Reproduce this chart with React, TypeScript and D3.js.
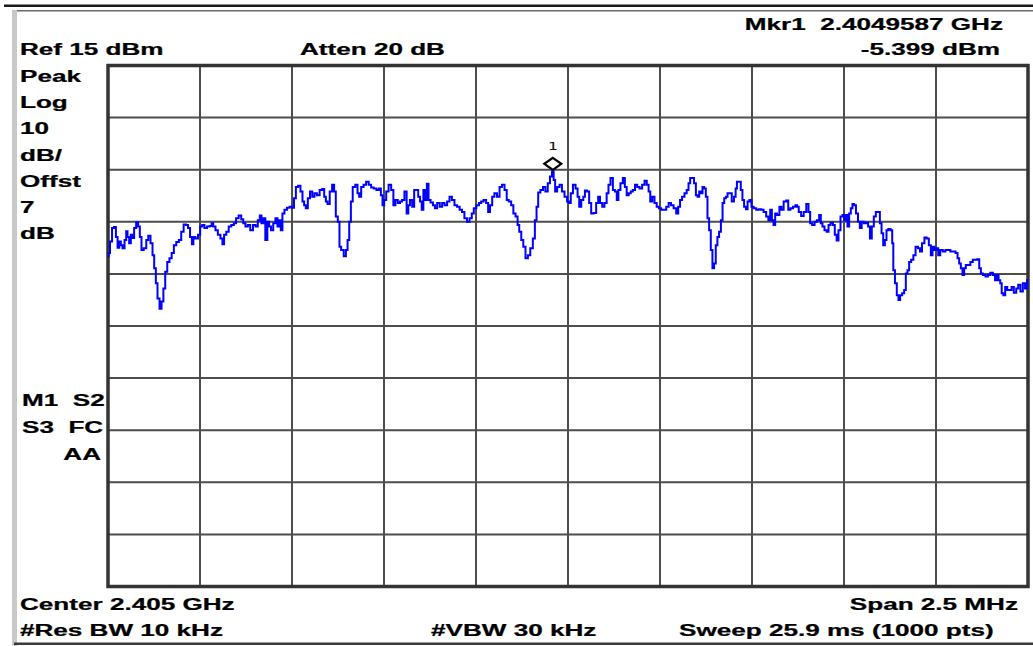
import React from "react";
import * as d3 from "d3";

// ---- instrument settings ----
const CENTER_GHZ = 2.405;
const SPAN_MHZ = 2.5;
const REF_DBM = 15;
const DB_PER_DIV = 10;
const DIVS = 10;

// ---- trace: frequency offset from center (kHz) and level (dBm) ----
const freqOffsetKHz = [
  -1250,-1247,-1242,-1236,-1231,-1226,-1222,-1217,-1213,-1208,
  -1202,-1199,-1195,-1190,-1186,-1181,-1177,-1170,-1166,-1161,
  -1157,-1149,-1143,-1138,-1131,-1127,-1122,-1118,-1113,-1107,
  -1102,-1097,-1092,-1086,-1080,-1074,-1068,-1061,-1054,-1048,
  -1041,-1035,-1030,-1024,-1020,-1016,-1009,-1002,-997,-991,
  -985,-977,-970,-967,-961,-955,-948,-941,-937,-932,
  -925,-919,-911,-905,-899,-891,-885,-880,-873,-867,
  -860,-852,-846,-840,-835,-831,-825,-820,-814,-810,
  -804,-798,-792,-787,-783,-778,-774,-767,-760,-753,
  -747,-742,-737,-730,-724,-719,-715,-710,-704,-698,
  -692,-686,-679,-671,-665,-660,-656,-651,-644,-638,-633,
  -629,-622,-620,-613,-606,-601,-597,-592,-588,
  -582,-574,-570,-565,-559,-552,-545,-538,-532,-524,
  -517,-511,-506,-502,-497,-491,-484,-477,-472,-466,
  -459,-454,-448,-441,-436,-432,-427,-420,-416,-410,
  -404,-400,-395,-391,-386,-381,-377,-370,-364,-359,
  -352,-345,-339,-332,-325,-319,-312,-305,-298,-291,
  -285,-278,-271,-264,-259,-253,-245,-239,-233,-226,
  -219,-215,-209,-203,-197,-189,-183,-176,-169,-164,
  -158,-151,-146,-139,-135,-130,-124,-119,-112,-106,
  -99,-92,-88,-83,-79,-71,-65,-58,-52,-46,
  -41,-37,-33,-26,-20,-13,-6,1,
  5,10,17,24,28,33,39,44,48,55,60,66,
  73,80,84,90,96,102,108,112,119,125,
  130,135,139,146,152,157,162,168,173,179,
  185,191,198,205,211,217,221,226,232,238,
  244,250,256,264,270,277,283,291,297,302,
  307,313,320,325,330,334,340,345,350,354,
  359,363,368,372,377,381,386,390,395,399,
  404,408,413,418,422,427,431,436,442,448,
  454,457,461,467,472,476,481,486,490,496,
  501,508,515,522,528,535,542,547,552,556,
  561,565,571,578,582,590,596,601,608,615,621,
  624,630,637,644,651,656,660,667,673,
  680,685,689,694,700,706,710,717,723,727,
  733,737,744,748,753,757,762,766,771,775,
  780,785,791,795,801,807,813,818,823,828,
  834,839,845,850,854,859,863,868,873,880,
  882,886,891,896,900,905,911,916,920,925,
  929,936,941,948,954,959,965,972,977,984,
  988,993,997,1004,1008,1015,1022,1029,1035,1043,
  1050,1056,1061,1065,1070,1074,1079,1083,1090,1097,
  1103,1109,1115,1120,1124,1131,1138,1144,1151,1158,
  1163,1168,1172,1177,1180,1186,1190,1197,1203,1208,
  1215,1221,1226,1233,1239,1245,1250,
];

const levelDbm = [
  -21.7,-21.0,-18.8,-16.2,-16.0,-17.9,-20.0,-18.8,-19.5,-20.1,
  -18.5,-16.8,-17.9,-19.1,-17.5,-18.1,-16.2,-15.1,-15.9,-17.9,
  -20.4,-20.1,-18.5,-17.7,-19.1,-21.4,-23.9,-26.8,-29.7,-31.7,
  -30.3,-27.8,-24.6,-22.7,-22.0,-21.0,-19.5,-18.9,-18.5,-16.9,
  -15.5,-15.6,-16.2,-17.9,-19.3,-17.9,-18.2,-17.5,-15.9,-15.6,
  -16.2,-15.9,-15.8,-15.3,-15.9,-16.6,-17.5,-18.2,-19.3,-17.5,
  -16.9,-15.9,-15.6,-15.3,-14.3,-13.8,-14.5,-15.3,-15.9,-15.6,
  -16.6,-15.6,-15.9,-14.7,-13.8,-15.3,-14.3,-18.5,-15.0,-15.9,
  -16.6,-15.3,-14.3,-15.9,-14.7,-16.6,-13.4,-12.7,-12.3,-12.1,
  -12.3,-10.5,-8.3,-8.1,-9.2,-11.1,-11.8,-12.4,-10.5,-9.2,
  -10.2,-9.5,-9.9,-8.9,-8.7,-10.2,-11.1,-11.6,-9.2,-7.9,-9.2,
  -14.0,-15.0,-19.8,-20.4,-21.6,-20.4,-18.5,-15.0,-11.1,
  -8.3,-7.9,-9.5,-10.2,-8.3,-7.9,-7.3,-7.9,-8.4,-8.6,
  -8.9,-8.6,-9.9,-11.8,-10.8,-9.2,-7.9,-8.9,-11.8,-10.8,
  -11.4,-11.1,-10.8,-9.2,-13.4,-11.8,-10.8,-12.1,-8.9,-8.9,
  -10.2,-11.1,-12.7,-8.9,-10.8,-7.7,-10.8,-11.3,-11.8,-12.4,
  -11.4,-12.1,-11.4,-11.8,-11.1,-10.2,-10.8,-11.8,-12.1,-12.7,
  -13.1,-14.3,-15.0,-14.3,-13.4,-12.4,-11.8,-11.4,-11.1,-10.8,
  -11.4,-13.1,-11.8,-10.2,-9.5,-10.2,-8.3,-7.9,-8.9,-10.8,
  -11.1,-11.8,-13.4,-14.0,-15.6,-16.9,-18.5,-19.8,-22.0,-21.4,
  -20.1,-18.2,-14.7,-12.1,-9.4,-8.9,-8.3,-9.2,-7.6,-6.3,
  -5.4,-7.0,-9.2,-8.3,-7.9,-9.2,-10.2,-11.1,
  -11.4,-9.5,-7.9,-8.6,-10.2,-12.1,-10.8,-10.2,-9.0,-9.2,-11.4,-13.4,
  -13.3,-11.4,-10.2,-11.4,-12.1,-11.4,-9.5,-7.9,-6.6,-8.9,
  -9.2,-10.8,-8.9,-7.6,-6.6,-8.3,-9.9,-9.5,-9.2,-8.9,
  -7.9,-8.3,-8.6,-7.9,-7.1,-7.9,-9.2,-11.1,-10.2,-11.4,
  -12.1,-12.4,-12.7,-12.7,-12.1,-11.4,-11.8,-12.4,-13.4,-12.1,
  -10.8,-10.2,-9.5,-8.9,-7.6,-6.6,-6.6,-7.6,-9.9,-10.2,
  -9.2,-9.5,-8.3,-8.6,-10.2,-14.3,-16.6,-20.4,-23.9,-23.0,
  -19.5,-17.9,-16.9,-14.7,-11.4,-10.5,-10.2,-9.5,-9.5,-11.1,
  -10.2,-8.6,-7.3,-7.3,-8.9,-10.8,-12.1,-12.6,-11.1,-10.8,
  -12.1,-12.4,-12.7,-12.6,-12.7,-13.1,-14.0,-14.7,-12.7,-14.7,
  -15.6,-13.4,-13.7,-12.1,-12.7,-11.1,-10.9,-12.7,-12.4,-12.1,-11.8,
  -12.1,-13.1,-13.9,-13.1,-11.6,-13.1,-15.3,-15.6,-15.0,
  -14.7,-13.7,-15.3,-15.9,-16.6,-16.9,-15.6,-15.2,-15.6,-17.5,
  -18.6,-16.6,-14.0,-13.7,-14.7,-13.7,-15.9,-13.4,-12.4,-11.6,
  -11.8,-13.4,-15.0,-16.2,-15.0,-15.3,-15.2,-15.9,-18.2,-15.9,
  -14.0,-13.1,-13.1,-15.3,-17.2,-19.5,-18.5,-16.6,-16.4,-16.6,
  -19.1,-24.3,-26.8,-29.1,-30.0,-29.1,-28.7,-28.1,-24.9,-24.3,
  -22.7,-22.3,-21.4,-19.8,-20.1,-20.7,-19.1,-18.0,-18.2,-19.5,
  -21.4,-19.8,-20.4,-20.1,-21.4,-20.4,-20.7,-20.4,-20.4,-20.7,
  -20.7,-21.0,-22.0,-23.0,-23.9,-25.2,-23.9,-23.3,-23.3,-22.7,
  -22.3,-22.3,-22.2,-23.9,-24.9,-25.2,-25.5,-25.2,-24.8,-25.2,
  -26.2,-25.2,-26.2,-26.8,-28.7,-29.1,-27.5,-28.1,-28.1,-27.5,
  -28.6,-27.8,-27.1,-28.4,-26.8,-27.8,-26.2,
];

// ---- marker ----
const markerId = "1";
const markerFreqGHz = 2.4049587;
const markerLevelDbm = -5.399;

// ---- annotation texts ----
const sideLabels = ["Peak", "Log", "10", "dB/", "Offst", "7", "dB"];
const statusRow1 = "M1  S2";
const statusRow2 = "S3  FC";
const statusRow3 = "AA";
const attenText = "Atten 20 dB";
const resBwText = "#Res BW 10 kHz";
const vbwText = "#VBW 30 kHz";
const sweepText = "Sweep 25.9 ms (1000 pts)";

const W = 1033;
const H = 646;
const PLOT = { left: 108, right: 1028, top: 65.5, bottom: 586.5 };

const FONT = "'Liberation Sans', Arial, Helvetica, sans-serif";

function Label({ x, y, anchor = "start", children }: any) {
  return (
    <text
      transform={`translate(${x},${y}) scale(1.5,1)`}
      textAnchor={anchor}
      fontFamily={FONT}
      fontWeight="bold"
      fontSize={17.4}
      fill="#000"
      stroke="#000"
      strokeWidth={0.25}
      style={{ whiteSpace: "pre" }}
    >
      {children}
    </text>
  );
}

export default function App() {
  const halfSpanKHz = (SPAN_MHZ * 1000) / 2;
  const x = d3.scaleLinear().domain([-halfSpanKHz, halfSpanKHz]).range([PLOT.left, PLOT.right]);
  const bottomDbm = REF_DBM - DB_PER_DIV * DIVS;
  const y = d3.scaleLinear().domain([bottomDbm, REF_DBM]).range([PLOT.bottom, PLOT.top]);

  const n = Math.min(freqOffsetKHz.length, levelDbm.length);
  const pts: [number, number][] = d3.range(n).map((i) => [freqOffsetKHz[i], levelDbm[i]]);
  const line = d3
    .line<[number, number]>()
    .x((d) => x(d[0]))
    .y((d) => y(d[1]))
    .curve(d3.curveStep);

  const xTicks = d3.range(DIVS + 1).map((i) => -halfSpanKHz + (i * 2 * halfSpanKHz) / DIVS);
  const yTicks = d3.range(DIVS + 1).map((i) => REF_DBM - i * DB_PER_DIV);

  const mx = x((markerFreqGHz - CENTER_GHZ) * 1e6);
  const my = y(markerLevelDbm);
  const dcy = my - 8;

  return (
    <svg
      width={W}
      height={H}
      viewBox={`0 0 ${W} ${H}`}
      style={{ position: "absolute", left: 0, top: 0, background: "#fff" }}
    >
      <rect x={0} y={0} width={W} height={H} fill="#fff" />
      {/* window frame */}
      <rect x={4} y={4.5} width={W - 4} height={2.5} fill="#1a1a1a" />
      <rect x={14} y={10} width={W - 14} height={1.5} fill="#6a6a6a" />
      <rect x={12} y={10} width={5} height={636} fill="#c8c8c8" />
      <rect x={14} y={642.5} width={W - 14} height={2.5} fill="#3a3a3a" />

      {/* grid */}
      <g stroke="#4d4d4d" strokeWidth={2}>
        {xTicks.slice(1, -1).map((t) => (
          <line key={"vx" + t} x1={x(t)} x2={x(t)} y1={PLOT.top} y2={PLOT.bottom} />
        ))}
        {yTicks.slice(1, -1).map((t) => (
          <line key={"hy" + t} x1={PLOT.left} x2={PLOT.right} y1={y(t)} y2={y(t)} />
        ))}
      </g>
      <rect
        x={PLOT.left}
        y={PLOT.top}
        width={PLOT.right - PLOT.left}
        height={PLOT.bottom - PLOT.top}
        fill="none"
        stroke="#333"
        strokeWidth={3.5}
      />

      {/* trace */}
      <path d={line(pts) || ""} fill="none" stroke="#0000ff" strokeWidth={2} strokeLinejoin="miter" />

      {/* marker */}
      <path
        d={`M${mx},${dcy - 6} L${mx + 8.5},${dcy} L${mx},${dcy + 6} L${mx - 8.5},${dcy} Z`}
        fill="#fff"
        stroke="#000"
        strokeWidth={2.2}
      />
      <text
        transform={`translate(${mx},${dcy - 14}) scale(1.5,1)`}
        textAnchor="middle"
        fontFamily="'DejaVu Sans Mono', monospace"
        fontSize={11}
        fill="#111"
      >
        {markerId}
      </text>

      {/* header */}
      <Label x={20} y={55}>{`Ref ${REF_DBM} dBm`}</Label>
      <Label x={300} y={55}>{attenText}</Label>
      <Label x={1003} y={30} anchor="end">{`Mkr${markerId}  ${markerFreqGHz} GHz`}</Label>
      <Label x={1000} y={55} anchor="end">{`${markerLevelDbm} dBm`}</Label>

      {/* left column */}
      {sideLabels.map((s, i) => (
        <Label key={s + i} x={20} y={82 + i * 26.2}>{s}</Label>
      ))}
      <Label x={22} y={406}>{statusRow1}</Label>
      <Label x={22} y={433}>{statusRow2}</Label>
      <Label x={101} y={460} anchor="end">{statusRow3}</Label>

      {/* footer */}
      <Label x={20} y={610}>{`Center ${CENTER_GHZ} GHz`}</Label>
      <Label x={1018} y={610} anchor="end">{`Span ${SPAN_MHZ} MHz`}</Label>
      <Label x={20} y={636}>{resBwText}</Label>
      <Label x={431} y={636}>{vbwText}</Label>
      <Label x={679} y={636}>{sweepText}</Label>
    </svg>
  );
}
